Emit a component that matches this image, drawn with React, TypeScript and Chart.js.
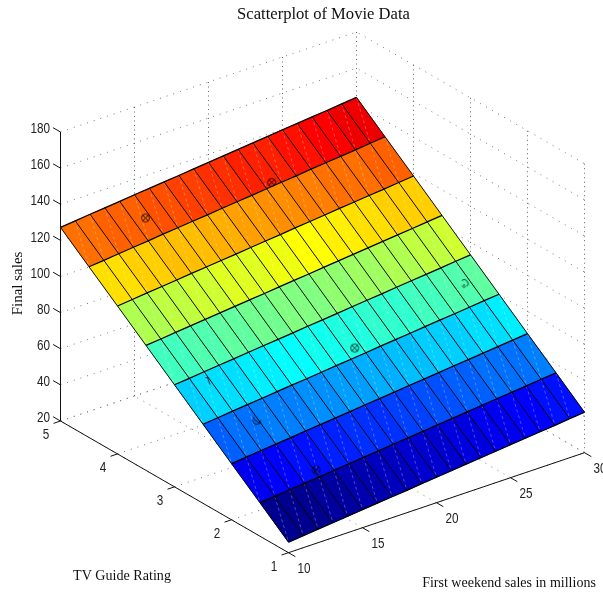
import React, { useEffect, useRef } from "react";
import { Chart, registerables } from "chart.js";

Chart.register(...registerables);

const firstWeekend = [10, 11, 12, 13, 14, 15, 16, 17, 18, 19, 20, 21, 22, 23, 24, 25, 26, 27, 28, 29, 30];
const tvRating = [1, 1.5, 2, 2.5, 3, 3.5, 4, 4.5, 5];
const finalSales = [
  [25.8, 26.6, 27.5, 28.3, 29.1, 30.0, 30.8, 31.6, 32.4, 33.3, 34.1, 34.9, 35.8, 36.6, 37.4, 38.3, 39.1, 39.9, 40.7, 41.6, 42.4],
  [38.5, 39.3, 40.2, 41.0, 41.8, 42.7, 43.5, 44.3, 45.1, 46.0, 46.8, 47.6, 48.5, 49.3, 50.1, 51.0, 51.8, 52.6, 53.4, 54.3, 55.1],
  [51.1, 51.9, 52.8, 53.6, 54.4, 55.3, 56.1, 56.9, 57.7, 58.6, 59.4, 60.2, 61.1, 61.9, 62.7, 63.6, 64.4, 65.2, 66.0, 66.9, 67.7],
  [63.8, 64.6, 65.5, 66.3, 67.1, 68.0, 68.8, 69.6, 70.4, 71.3, 72.1, 72.9, 73.8, 74.6, 75.4, 76.3, 77.1, 77.9, 78.7, 79.6, 80.4],
  [76.5, 77.3, 78.2, 79.0, 79.8, 80.7, 81.5, 82.3, 83.1, 84.0, 84.8, 85.6, 86.5, 87.3, 88.1, 89.0, 89.8, 90.6, 91.4, 92.3, 93.1],
  [89.2, 90.0, 90.9, 91.7, 92.5, 93.4, 94.2, 95.0, 95.8, 96.7, 97.5, 98.3, 99.2, 100.0, 100.8, 101.7, 102.5, 103.3, 104.1, 105.0, 105.8],
  [101.9, 102.7, 103.6, 104.4, 105.2, 106.1, 106.9, 107.7, 108.5, 109.4, 110.2, 111.0, 111.9, 112.7, 113.5, 114.4, 115.2, 116.0, 116.8, 117.7, 118.5],
  [114.5, 115.3, 116.2, 117.0, 117.8, 118.7, 119.5, 120.3, 121.1, 122.0, 122.8, 123.6, 124.5, 125.3, 126.1, 127.0, 127.8, 128.6, 129.4, 130.3, 131.1],
  [127.2, 128.0, 128.9, 129.7, 130.5, 131.4, 132.2, 133.0, 133.8, 134.7, 135.5, 136.3, 137.2, 138.0, 138.8, 139.7, 140.5, 141.3, 142.1, 143.0, 143.8],
];

const movieFirstWeekend = [14.7, 22.5, 20.6, 14.1, 11.9, 12.9, 28.6];
const movieRating = [4.73, 4.54, 2.59, 1.58, 2.9, 2.31, 2.75];
const movieFinal = [124.3, 125.9, 75.0, 43.9, 75.4, 61.4, 85.6];

const xTicks = [10, 15, 20, 25, 30];
const yTicks = [1, 2, 3, 4, 5];
const zTicks = [20, 40, 60, 80, 100, 120, 140, 160, 180];

const titleText = "Scatterplot of Movie Data";
const xLabel = "First weekend sales in millions";
const yLabel = "TV Guide Rating";
const zLabel = "Final sales";

const W = 603;
const H = 594;
const PAD_LEFT = 44;
const TITLE_SIZE = 16.6;
const TITLE_PAD = 5;
const TITLE_H = TITLE_PAD + TITLE_SIZE * 1.2;
const SERIF = '"Liberation Serif", serif';
const SANS = '"Liberation Sans", sans-serif';

// orthographic view of the axes box
function project(x: number, y: number, z: number) {
  return {
    x: 288.5 + ((x - 10) / 20) * 296 - ((y - 1) / 4) * 228,
    y: 552.7 - ((x - 10) / 20) * 100 - ((y - 1) / 4) * 131.7 - ((z - 20) / 160) * 289,
  };
}

function jet(i: number) {
  const u = (k: number) => {
    if (k < 1 || k > 47) return 0;
    if (k <= 16) return k / 16;
    if (k <= 31) return 1;
    return (48 - k) / 16;
  };
  const k = i + 1;
  const c = (v: number) => Math.round(v * 255);
  return `rgb(${c(u(k - 24))},${c(u(k - 8))},${c(u(k + 8))})`;
}

const GAP = { x: NaN, y: NaN };

function polyline(segments: { x: number; y: number }[][]) {
  const out: { x: number; y: number }[] = [];
  segments.forEach((s) => {
    out.push(...s, GAP);
  });
  return out;
}

function buildGlyph(kind: number) {
  const c = document.createElement("canvas");
  c.width = 13;
  c.height = 13;
  const g = c.getContext("2d")!;
  g.translate(6.5, 6.5);
  g.strokeStyle = "#000";
  g.lineWidth = 0.8;
  const r = 4;
  const d = 2.7;
  const seg = (a: number, b: number, e: number, f: number) => {
    g.beginPath();
    g.moveTo(a, b);
    g.lineTo(e, f);
    g.stroke();
  };
  const arc = (a: number, b: number) => {
    g.beginPath();
    g.arc(0, 0, r, a, b);
    g.stroke();
  };
  if (kind === 0) {
    arc(0, Math.PI * 2);
    seg(-d, -d, d, d);
    seg(-d, d, d, -d);
  } else if (kind === 1) {
    seg(-3, -3, 0, -2.6);
    seg(-1, -3.6, 1.5, 4);
  } else if (kind === 2) {
    arc(0, Math.PI);
    seg(-d, -1, d, d);
    seg(-3.5, -3.5, -2.5, -1);
  } else {
    arc(-Math.PI * 0.7, Math.PI * 0.25);
    seg(1, 3, -0.5, 0.5);
    g.beginPath();
    g.arc(0, 2.2, 1.6, Math.PI * 0.3, Math.PI * 1.1);
    g.stroke();
  }
  return c;
}

const markerKinds = [0, 0, 0, 0, 1, 2, 3];

export default function App() {
  const ref = useRef<HTMLCanvasElement>(null);

  useEffect(() => {
    const canvas = ref.current;
    if (!canvas) return;

    const zMin = finalSales[0][0];
    const zMax = finalSales[finalSales.length - 1][firstWeekend.length - 1];
    const colorOf = (z: number) => jet(Math.min(63, Math.floor(((z - zMin) / (zMax - zMin)) * 64)));

    const cellSets: any[] = [];
    const diagonals: { x: number; y: number }[][] = [];
    const rowLines: { x: number; y: number }[][] = [];
    const colLines: { x: number; y: number }[][] = [];
    for (let r = 0; r < tvRating.length; r++) {
      rowLines.push(firstWeekend.map((x, c) => project(x, tvRating[r], finalSales[r][c])));
    }
    for (let c = 0; c < firstWeekend.length; c++) {
      colLines.push(tvRating.map((y, r) => project(firstWeekend[c], y, finalSales[r][c])));
    }
    for (let r = 0; r < tvRating.length - 1; r++) {
      for (let c = 0; c < firstWeekend.length - 1; c++) {
        const a = project(firstWeekend[c], tvRating[r], finalSales[r][c]);
        const b = project(firstWeekend[c + 1], tvRating[r], finalSales[r][c + 1]);
        const d = project(firstWeekend[c + 1], tvRating[r + 1], finalSales[r + 1][c + 1]);
        const e = project(firstWeekend[c], tvRating[r + 1], finalSales[r + 1][c]);
        const color = colorOf(finalSales[r][c]);
        cellSets.push({
          data: [a, b, d, e, a],
          showLine: true,
          fill: "shape",
          backgroundColor: color,
          borderColor: color,
          borderWidth: 0.6,
          pointRadius: 0,
          clip: false,
        });
        diagonals.push([d, a]);
      }
    }

    const z0 = zTicks[0];
    const z1 = zTicks[zTicks.length - 1];
    const x0 = xTicks[0];
    const x1 = xTicks[xTicks.length - 1];
    const y0 = yTicks[0];
    const y1 = yTicks[yTicks.length - 1];

    const slanted: { x: number; y: number }[][] = [];
    const upright: { x: number; y: number }[][] = [];
    zTicks.forEach((z) => {
      slanted.push([project(x0, y1, z), project(x1, y1, z), project(x1, y0, z)]);
    });
    xTicks.forEach((x) => {
      slanted.push([project(x, y0, z0), project(x, y1, z0)]);
      if (x !== x0) upright.push([project(x, y1, z0), project(x, y1, z1)]);
    });
    yTicks.forEach((y) => {
      slanted.push([project(x0, y, z0), project(x1, y, z0)]);
      if (y !== y1) upright.push([project(x1, y, z0), project(x1, y, z1)]);
    });

    const axisLines: { x: number; y: number }[][] = [
      [project(x0, y0, z0), project(x1, y0, z0)],
      [project(x0, y0, z0), project(x0, y1, z0)],
      [project(x0, y1, z0), project(x0, y1, z1)],
    ];
    xTicks.forEach((x) => axisLines.push([project(x, y0, z0), project(x, y0 - 0.12, z0)]));
    yTicks.forEach((y) => axisLines.push([project(x0, y, z0), project(x0 - 0.47, y, z0)]));
    zTicks.forEach((z) => axisLines.push([project(x0, y1, z), project(x0, y1 + 0.13, z)]));

    const lineSet = (data: any[], extra: any) => ({
      data,
      showLine: true,
      spanGaps: false,
      fill: false,
      pointRadius: 0,
      clip: false,
      ...extra,
    });

    const glyphs = markerKinds.map((k) => buildGlyph(k));

    const squeezed = (ctx: any, text: string, x: number, y: number, sx: number, align: string) => {
      ctx.save();
      ctx.translate(x, y);
      ctx.scale(sx, 1);
      ctx.textAlign = align;
      ctx.fillText(text, 0, 0);
      ctx.restore();
    };

    const labelPlugin = {
      id: "axisText",
      afterDraw(chart: any) {
        const { ctx, scales } = chart;
        const px = (p: { x: number; y: number }) => ({
          x: scales.x.getPixelForValue(p.x),
          y: scales.y.getPixelForValue(p.y),
        });
        ctx.save();
        ctx.fillStyle = "#222";
        ctx.font = `15px ${SANS}`;
        ctx.textBaseline = "middle";
        zTicks.forEach((z) => {
          const p = px(project(x0, y1, z));
          squeezed(ctx, String(z), p.x - 10.5, p.y - 3, 0.78, "right");
        });
        yTicks.forEach((y) => {
          const p = px(project(x0, y, z0));
          squeezed(ctx, String(y), p.x - 14.5, p.y + 13.8, 0.78, "center");
        });
        xTicks.forEach((x) => {
          const p = px(project(x, y0, z0));
          squeezed(ctx, String(x), p.x + 15.5, p.y + 16.3, 0.78, "center");
        });
        ctx.fillStyle = "#111";
        ctx.font = `15px ${SERIF}`;
        squeezed(ctx, yLabel, 122, 576.5, 0.94, "center");
        squeezed(ctx, xLabel, 509, 583, 0.935, "center");
        ctx.save();
        ctx.translate(18, 283.5);
        ctx.rotate(-Math.PI / 2);
        ctx.textAlign = "center";
        ctx.fillText(zLabel, 0, 0);
        ctx.restore();
        ctx.restore();
      },
    };

    const chart = new Chart(canvas, {
      type: "scatter",
      data: {
        datasets: [
          {
            data: movieFirstWeekend.map((x, i) => project(x, movieRating[i], movieFinal[i])),
            pointStyle: glyphs as any,
            pointRadius: 6,
            clip: false,
            showLine: false,
          } as any,
          lineSet(polyline(rowLines), { borderColor: "#000", borderWidth: 1.25 }),
          lineSet(polyline(colLines), { borderColor: "#000", borderWidth: 0.95 }),
          lineSet(polyline(diagonals), {
            borderColor: "rgba(255,255,255,0.36)",
            borderWidth: 0.8,
            borderDash: [3, 3],
          }),
          ...cellSets,
          lineSet(polyline(axisLines), { borderColor: "#111", borderWidth: 1 }),
          lineSet(polyline(slanted), { borderColor: "#777", borderWidth: 1, borderDash: [1, 6] }),
          lineSet(polyline(upright), { borderColor: "#666", borderWidth: 1, borderDash: [1, 3.5] }),
        ],
      },
      options: {
        responsive: false,
        animation: false,
        events: [],
        layout: { autoPadding: false, padding: { left: PAD_LEFT, top: 0, right: 0, bottom: 0 } },
        plugins: {
          legend: { display: false },
          tooltip: { enabled: false },
          title: {
            display: true,
            text: titleText,
            color: "#111",
            font: { family: SERIF, size: TITLE_SIZE, weight: "normal", lineHeight: 1.2 },
            padding: { top: TITLE_PAD, bottom: 0 },
          },
        },
        scales: {
          x: { type: "linear", display: false, min: PAD_LEFT, max: W },
          y: { type: "linear", display: false, min: TITLE_H, max: H, reverse: true },
        },
      },
      plugins: [labelPlugin],
    } as any);

    return () => chart.destroy();
  }, []);

  return (
    <div style={{ position: "fixed", left: 0, top: 0, width: W, height: H, background: "#fff" }}>
      <canvas ref={ref} width={W} height={H} style={{ display: "block" }} />
    </div>
  );
}
